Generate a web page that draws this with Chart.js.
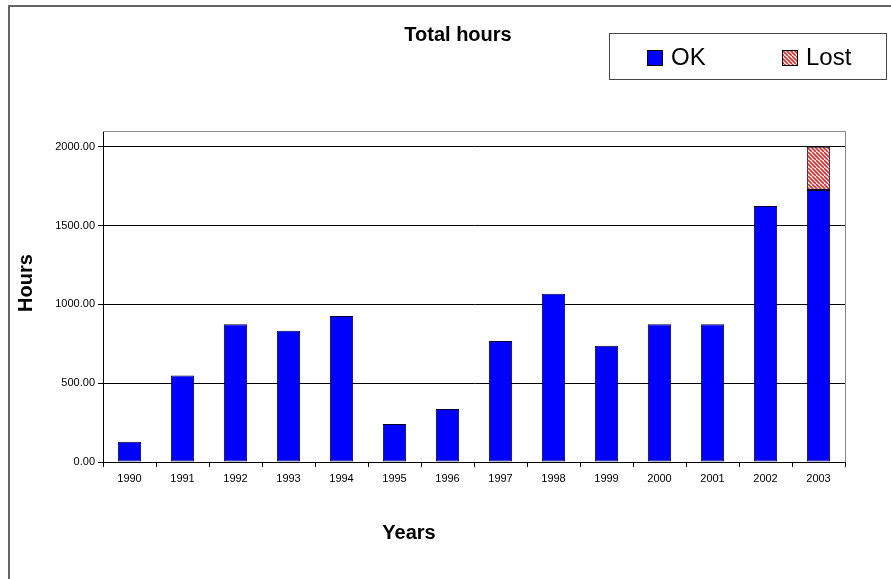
<!DOCTYPE html>
<html>
<head>
<meta charset="utf-8">
<script src="https://cdn.jsdelivr.net/npm/chart.js@4"></script>
<style>
html,body{margin:0;padding:0;background:#fff;}
canvas{display:block;}
</style>
</head>
<body>
<canvas id="c" width="891" height="579"></canvas>
<script>
const years = ['1990','1991','1992','1993','1994','1995','1996','1997','1998','1999','2000','2001','2002','2003'];
const okHours = [128, 548, 874, 832, 927, 241, 336, 767, 1068, 737, 874, 874, 1624, 1725];
const lostHours = [null, null, null, null, null, null, null, null, null, null, null, null, null, 275];
const yTicks = [0, 500, 1000, 1500, 2000];
const seriesNames = ['OK', 'Lost'];
const chartTitle = 'Total hours';
const xTitle = 'Years';
const yTitle = 'Hours';

const FONT = '"Liberation Sans", Arial, sans-serif';

function makePattern() {
  const c = document.createElement('canvas');
  c.width = 8; c.height = 8;
  const x = c.getContext('2d');
  x.fillStyle = '#ffffff';
  x.fillRect(0, 0, 8, 8);
  x.strokeStyle = '#d42a2a';
  x.lineWidth = 1.6;
  for (let k = -8; k <= 8; k += 4) {
    x.beginPath();
    x.moveTo(k, 0);
    x.lineTo(k + 8, 8);
    x.stroke();
  }
  return x.createPattern(c, 'repeat');
}
const lostPattern = makePattern();

const decor = {
  id: 'decor',
  beforeDraw(chart) {
    const ctx = chart.ctx;
    ctx.save();
    ctx.fillStyle = '#fff';
    ctx.fillRect(0, 0, chart.width, chart.height);
    ctx.restore();
  },
  afterDraw(chart) {
    const ctx = chart.ctx;
    const a = chart.chartArea;
    ctx.save();
    ctx.strokeStyle = '#666';
    ctx.lineWidth = 2;
    ctx.beginPath();
    ctx.moveTo(9, chart.height);
    ctx.lineTo(9, 6);
    ctx.lineTo(chart.width, 6);
    ctx.stroke();
    ctx.strokeStyle = '#888';
    ctx.lineWidth = 1;
    ctx.beginPath();
    ctx.moveTo(a.left, a.top + 0.5);
    ctx.lineTo(a.right + 0.5, a.top + 0.5);
    ctx.lineTo(a.right + 0.5, a.bottom);
    ctx.stroke();
    ctx.fillStyle = '#000';
    ctx.textAlign = 'center';
    ctx.textBaseline = 'middle';
    ctx.font = 'bold 20px ' + FONT;
    ctx.fillText(chartTitle, 458, 35);
    ctx.fillText(xTitle, 409, 533);
    ctx.save();
    ctx.translate(26, 283);
    ctx.rotate(-Math.PI / 2);
    ctx.fillText(yTitle, 0, 0);
    ctx.restore();
    ctx.strokeStyle = '#444';
    ctx.lineWidth = 1;
    ctx.strokeRect(609.5, 33.5, 277, 46);
    const items = [
      { x: 647, fill: '#0000ff', name: seriesNames[0] },
      { x: 782, fill: lostPattern, name: seriesNames[1] }
    ];
    ctx.font = '24px ' + FONT;
    ctx.textAlign = 'left';
    items.forEach(it => {
      ctx.fillStyle = it.fill;
      ctx.fillRect(it.x, 50, 15, 15);
      ctx.strokeStyle = '#000';
      ctx.strokeRect(it.x + 0.5, 50.5, 15, 15);
      ctx.fillStyle = '#000';
      ctx.fillText(it.name, it.x + 24, 58);
    });
    ctx.restore();
  }
};

new Chart(document.getElementById('c'), {
  type: 'bar',
  data: {
    labels: years,
    datasets: [
      {
        label: seriesNames[0],
        data: okHours,
        backgroundColor: '#0000ff',
        borderColor: '#000033',
        borderWidth: 1,
        borderSkipped: false,
        barPercentage: 0.44,
        categoryPercentage: 1
      },
      {
        label: seriesNames[1],
        data: lostHours,
        backgroundColor: lostPattern,
        borderColor: '#000033',
        borderWidth: 1,
        borderSkipped: false,
        barPercentage: 0.44,
        categoryPercentage: 1
      }
    ]
  },
  options: {
    responsive: false,
    animation: false,
    devicePixelRatio: 1,
    layout: { padding: { top: 131, right: 46, left: 0, bottom: 0 } },
    plugins: {
      legend: { display: false },
      title: { display: false },
      tooltip: { enabled: false }
    },
    scales: {
      x: {
        stacked: true,
        offset: true,
        grid: { drawOnChartArea: false, drawTicks: true, tickLength: 5, color: '#000', offset: true },
        border: { color: '#000', width: 1 },
        ticks: { color: '#000', font: { family: FONT, size: 11 }, padding: 5, maxRotation: 0, autoSkip: false },
        afterFit(s) { s.height = 117; }
      },
      y: {
        stacked: true,
        min: 0,
        max: 2100,
        afterBuildTicks(s) { s.ticks = yTicks.map(v => ({ value: v })); },
        grid: { color: '#000', tickLength: 5, lineWidth: 1 },
        border: { color: '#000', width: 1 },
        ticks: {
          color: '#000',
          font: { family: FONT, size: 11 },
          padding: 3,
          callback: v => Number(v).toFixed(2)
        },
        afterFit(s) { s.width = 103; }
      }
    }
  },
  plugins: [decor]
});
</script>
</body>
</html>
